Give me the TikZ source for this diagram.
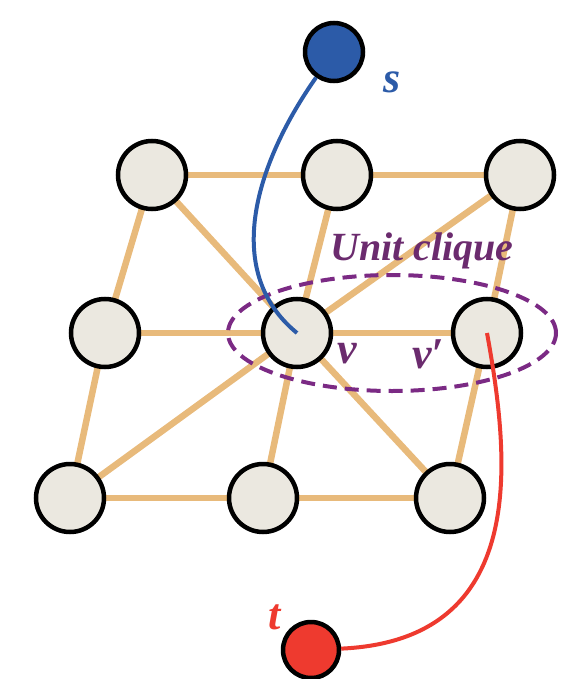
\documentclass[tikz,border=0pt]{standalone}
\usepackage{fontspec}
\usetikzlibrary{shapes.geometric}
\setmainfont{Liberation Serif}
\definecolor{edgeor}{HTML}{E8BA7B}
\definecolor{nodefill}{HTML}{EBE8E0}
\definecolor{sblue}{HTML}{2C5BA8}
\definecolor{tred}{HTML}{EE3A2F}
\definecolor{cliq}{HTML}{7B2A84}
\definecolor{cliqtext}{HTML}{6B2B6E}
\begin{document}
\begin{tikzpicture}[x=1pt,y=-1pt,
  gnode/.style={circle,draw=black,line width=4.5pt,fill=nodefill,minimum size=68pt,inner sep=0pt},
  gedge/.style={draw=edgeor,line width=6.5pt},
  lab/.style={font=\fontsize{44}{44}\selectfont\bfseries\itshape,inner sep=0pt}]
\useasboundingbox (0,0) rectangle (563,679);
% node positions
\coordinate (pa) at (152,175);
\coordinate (pb) at (337,175);
\coordinate (pc) at (520,175);
\coordinate (pd) at (105,333);
\coordinate (pv) at (297,333);
\coordinate (pw) at (487,333);
\coordinate (pg) at (70,498);
\coordinate (ph) at (263,498);
\coordinate (pi) at (450,498);
% edges
\draw[gedge] (pa) -- (pb) -- (pc);
\draw[gedge] (pd) -- (pv) -- (pw);
\draw[gedge] (pg) -- (ph) -- (pi);
\draw[gedge] (pa) -- (pd) -- (pg);
\draw[gedge] (pb) -- (pv) -- (ph);
\draw[gedge] (pc) -- (pw) -- (pi);
\draw[gedge] (pa) -- (pv) -- (pi);
\draw[gedge] (pc) -- (pv) -- (pg);
% nodes
\node[gnode] (a) at (pa) {};
\node[gnode] (b) at (pb) {};
\node[gnode] (c) at (pc) {};
\node[gnode] (d) at (pd) {};
\node[gnode] (v) at (pv) {};
\node[gnode] (w) at (pw) {};
\node[gnode] (g) at (pg) {};
\node[gnode] (h) at (ph) {};
\node[gnode] (i) at (pi) {};
\node[circle,draw=black,line width=4.5pt,fill=sblue,minimum size=58pt,inner sep=0pt] (s) at (334,52) {};
\node[circle,draw=black,line width=4.5pt,fill=tred,minimum size=56pt,inner sep=0pt] (t) at (311,650) {};
% unit clique
\node[draw=cliq,line width=4pt,dash pattern=on 14pt off 8pt,ellipse,minimum width=328pt,minimum height=116pt,inner sep=0pt] (clq) at (392,333) {};
% paths
\draw[sblue,line width=4pt] (s) .. controls (258,160) and (220,270) .. (v.center);
\draw[tred,line width=4pt] (w.center) .. controls (510,460) and (530,640) .. (t);
% labels
\node[lab,font=\fontsize{40}{40}\selectfont\bfseries\itshape,text=cliqtext] (ul) at (422,251) {Unit clique};
\node[lab,text=sblue] (sl) at (392,82) {s};
\node[lab,text=tred] (tl) at (275,617) {t};
\node[lab,text=cliqtext] (vl) at (347,354) {v};
\node[lab,text=cliqtext] (wl) at (428,354) {v′};
\end{tikzpicture}
\end{document}
